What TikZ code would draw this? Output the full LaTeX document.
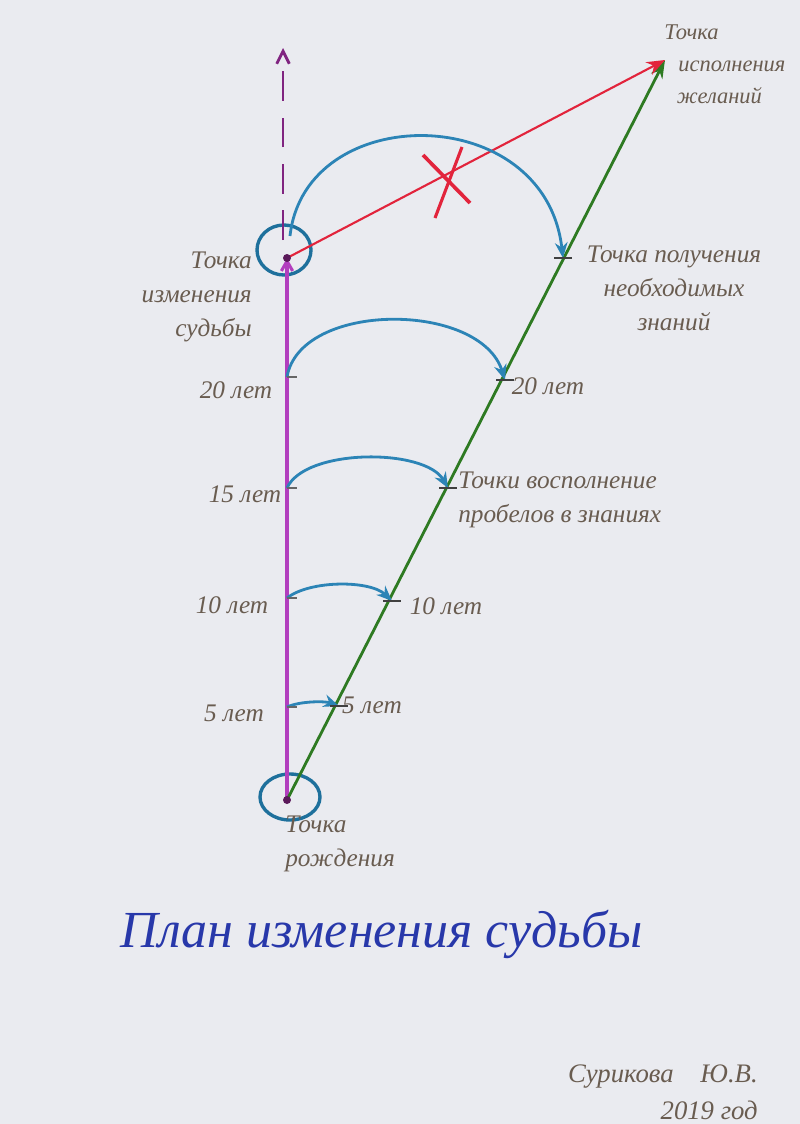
\documentclass[tikz,border=0pt]{standalone}
\usepackage{fontspec}
\setmainfont{Liberation Serif}
\usetikzlibrary{arrows.meta,calc}
\definecolor{paper}{RGB}{234,235,240}
\definecolor{pencil}{RGB}{105,92,80}
\definecolor{fate}{RGB}{178,62,190}
\definecolor{fatedark}{RGB}{128,36,128}
\definecolor{pathgreen}{RGB}{46,122,34}
\definecolor{wishred}{RGB}{226,36,60}
\definecolor{jump}{RGB}{44,132,182}
\definecolor{ring}{RGB}{30,112,156}
\definecolor{titleblue}{RGB}{40,56,170}
\tikzset{
  note/.style={text=pencil, font=\fontsize{18}{24}\selectfont\itshape, inner sep=0pt},
  jumparc/.style={jump, line width=2pt, -{Stealth[length=11pt,width=9pt,open]}},
  tick/.style={black!75, line width=1.6pt}
}
\begin{document}
\begin{tikzpicture}[x=0.025cm, y=-0.025cm]
	    \fill[paper] (0,0) rectangle (800,1124);
	    \useasboundingbox (0,0) rectangle (800,1124);
	    \coordinate (B) at (287,800);
	    \coordinate (C) at (287,258);
	    \coordinate (W) at (665,60);
	    \coordinate (Up) at (283,48);
	    \coordinate (K) at (563,258);
	    \coordinate (L20) at (287,377);
	    \coordinate (R20) at (505,380);
	    \coordinate (L15) at (287,488);
	    \coordinate (R15) at (448,488);
	    \coordinate (L10) at (287,598);
	    \coordinate (R10) at (392,601);
	    \coordinate (L5) at (287,707);
	    \coordinate (R5) at (339,706);
	    \draw[ring, line width=2.4pt] (290,797) ellipse (30 and 23);
	    \draw[ring, line width=2.4pt] (284,250) ellipse (27 and 25);
	    \draw[fatedark, line width=2pt, dash pattern=on 21pt off 12pt, -{Straight Barb[length=9pt,width=9pt]}] (283,240) -- (Up);
	    \draw[fate, line width=2.2pt, -{Straight Barb[length=7pt,width=8pt]}] (B) -- (C);
	    \draw[pathgreen, line width=2pt, -{Stealth[length=13pt,width=9pt]}] (B) -- (W);
	    \draw[wishred, line width=1.5pt, -{Stealth[length=13pt,width=10pt]}] (C) -- (W);
	    \draw[wishred, line width=2.6pt] (423,155) -- (470,203);
	    \draw[wishred, line width=2.2pt] (462,147) -- (435,218);
	    \draw[jumparc] (290,236) .. controls (305,100) and (545,100) .. (K);
	    \draw[jumparc] (L20) .. controls (300,301) and (480,301) .. (R20);
	    \draw[jumparc] (L15) .. controls (305,448) and (425,448) .. (R15);
	    \draw[jumparc] (L10) .. controls (310,580) and (370,580) .. (R10);
	    \draw[jumparc] (L5) .. controls (300,701) and (325,701) .. (R5);
	    \foreach \p in {K,R20,R15,R10,R5} \draw[tick] ($(\p)+(-9,0)$) -- ($(\p)+(9,0)$);
	    \foreach \p in {L20,L15,L10,L5} \draw[tick, black!60, line width=1pt] (\p) -- ($(\p)+(10,0)$);
	    \fill[fatedark!70!black] (B) circle (4);
	    \fill[fatedark!70!black] (C) circle (4);
	    \node[note, align=left, anchor=north west, font=\fontsize{16}{23}\selectfont\itshape] (wish) at (664,24) {Точка\\\hspace{10pt}исполнения\\\hspace{9pt}желаний};
	    \node[note, align=right, anchor=north east] (change) at (252,252) {Точка\\изменения\\судьбы};
	    \node[note, align=center, anchor=north] (know) at (674,246) {Точка получения\\необходимых\\знаний};
	    \node[note] (a20) at (236,390) {20 лет};
	    \node[note] (b20) at (548,386) {20 лет};
	    \node[note] (a15) at (245,494) {15 лет};
	    \node[note, align=left, anchor=north west] (gaps) at (458,472) {Точки восполнение\\пробелов в знаниях};
	    \node[note] (a10) at (232,605) {10 лет};
	    \node[note] (b10) at (446,606) {10 лет};
	    \node[note] (a5) at (234,713) {5 лет};
	    \node[note] (b5) at (372,705) {5 лет};
	    \node[note, align=left, anchor=north west] (birth) at (285,816) {Точка\\рождения};
	    \node[text=titleblue, font=\fontsize{37}{44}\selectfont\itshape] (title) at (382,934) {План изменения судьбы};
	    \node[note, align=right, anchor=south east, font=\fontsize{19}{26}\selectfont\itshape] (sign) at (758,1120) {Сурикова\quad Ю.В.\\2019 год};
\end{tikzpicture}
\end{document}
